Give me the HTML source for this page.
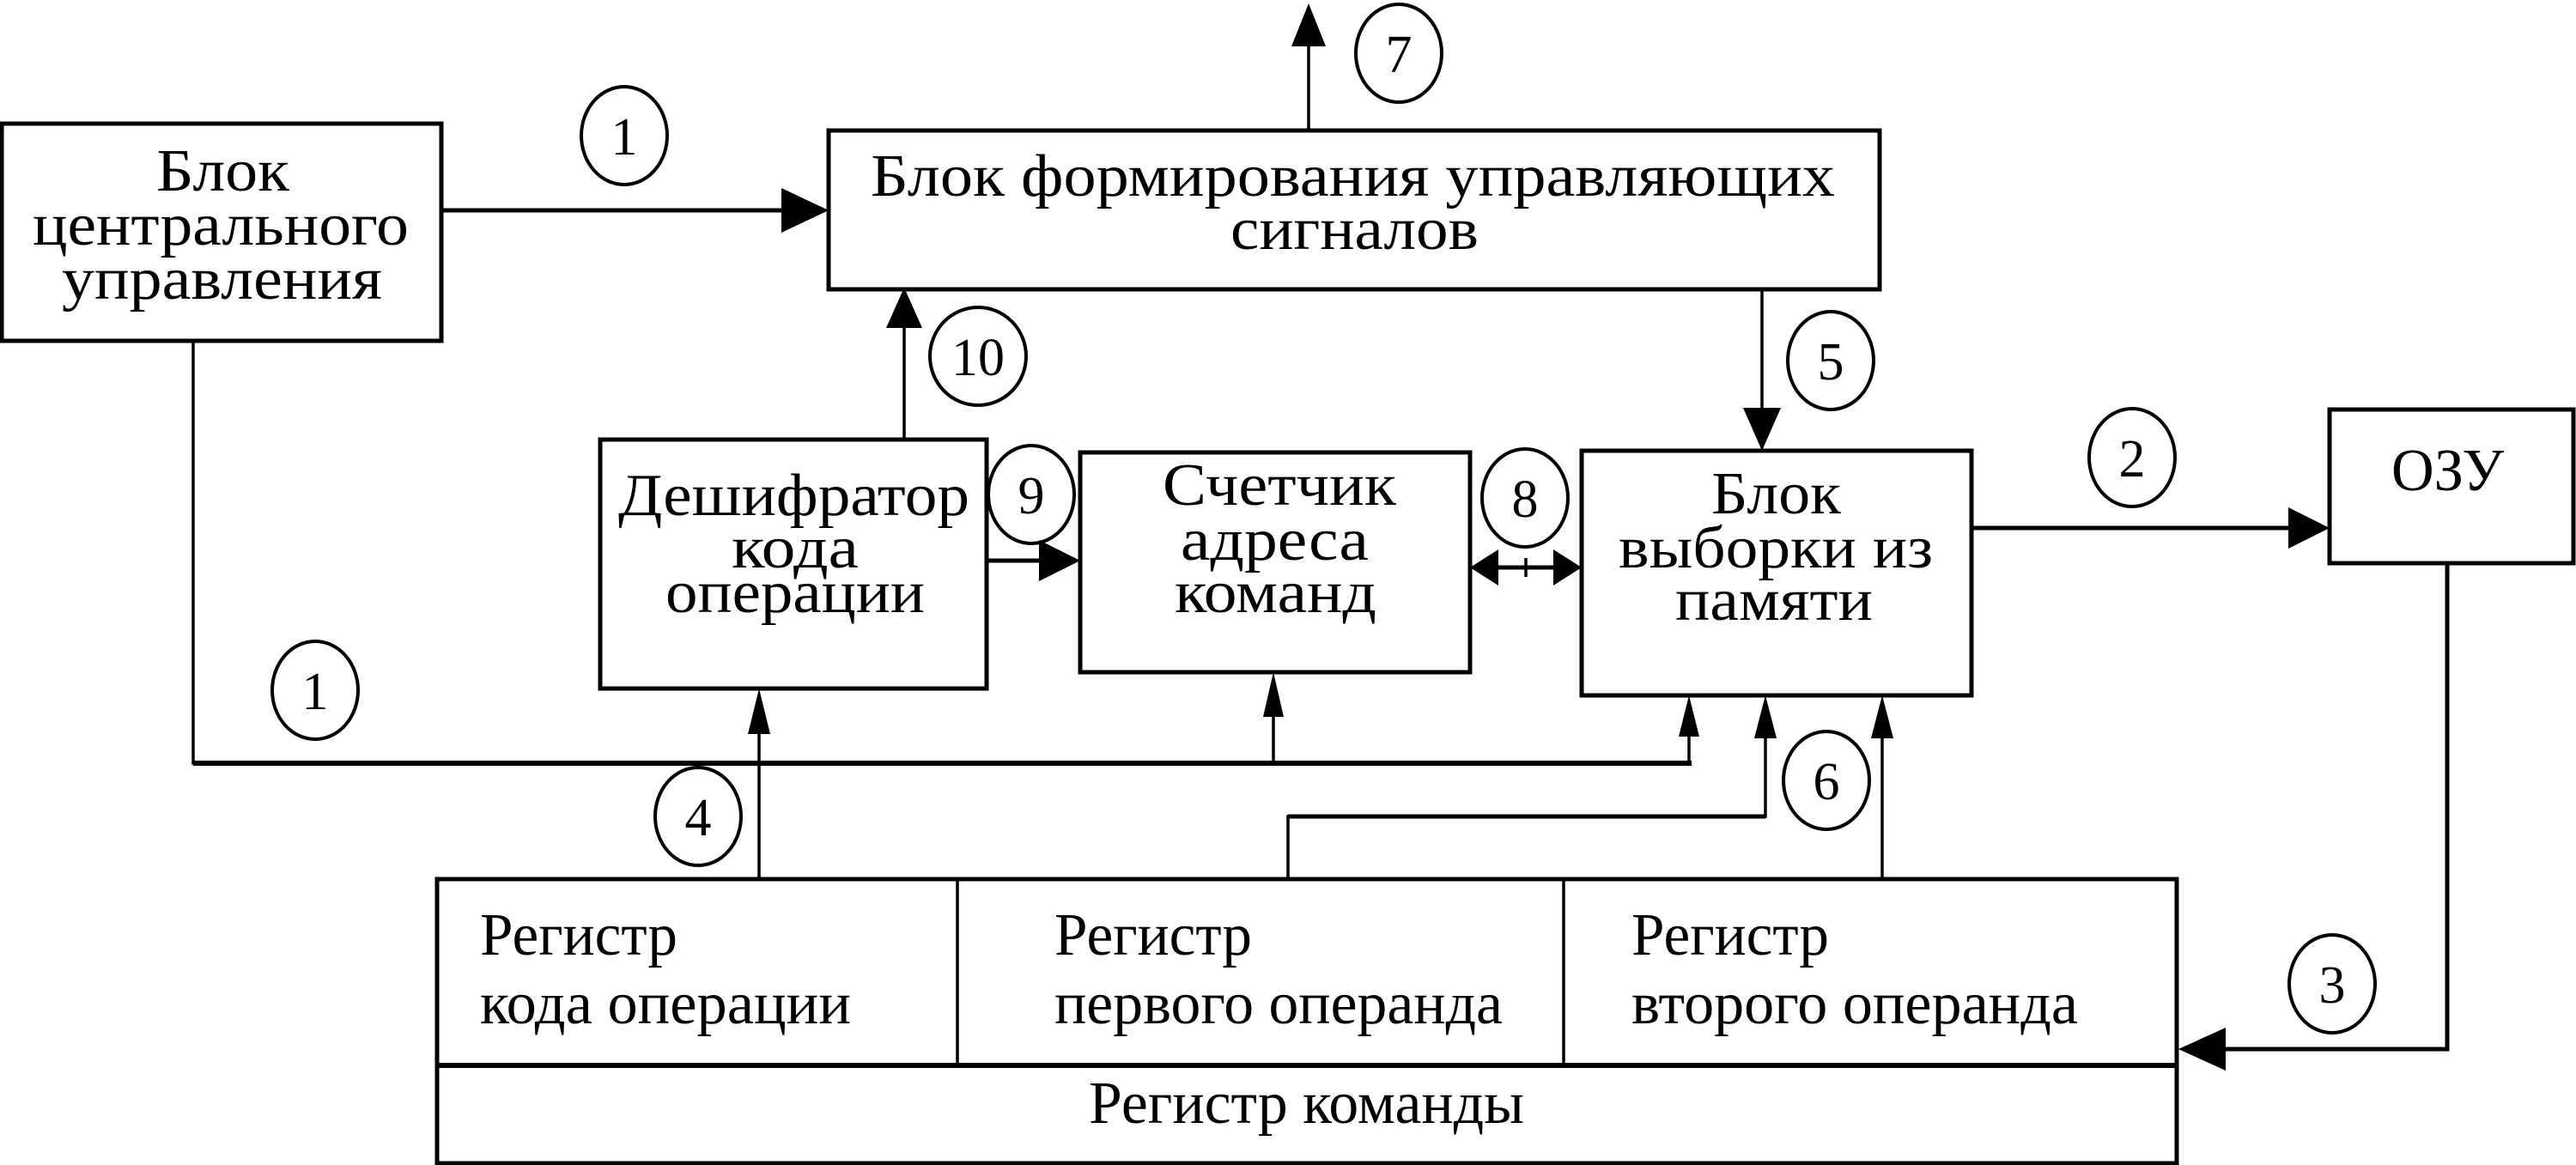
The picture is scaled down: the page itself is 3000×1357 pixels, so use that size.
<!DOCTYPE html>
<html><head><meta charset="utf-8"><style>
html,body{margin:0;padding:0;background:#fff;}
svg{display:block;}
text{font-family:"Liberation Serif",serif;font-size:70px;fill:#000;}
.n{font-size:62px;text-anchor:middle;}
</style></head><body>
<svg width="3000" height="1357" viewBox="0 0 3000 1357" xmlns="http://www.w3.org/2000/svg">
<g fill="none" stroke="#000" stroke-width="5">
<rect x="2" y="144" width="512" height="253"/>
<rect x="965" y="152" width="1224" height="185"/>
<rect x="699" y="512" width="450" height="290"/>
<rect x="1258" y="527" width="454" height="256"/>
<rect x="1842" y="525" width="454" height="285"/>
<rect x="2713" y="477" width="284" height="179"/>
<rect x="509" y="1024" width="2026" height="331"/>
</g>
<g fill="none" stroke="#000" stroke-width="3.5">
<line x1="509" y1="1241" x2="2535" y2="1241" stroke-width="6"/>
<line x1="1115" y1="1024" x2="1115" y2="1241"/>
<line x1="1821" y1="1024" x2="1821" y2="1241"/>
<!-- 7 -->
<line x1="1524" y1="152" x2="1524" y2="50"/>
<!-- 1 top -->
<line x1="514" y1="245" x2="912" y2="245" stroke-width="5"/>
<!-- 10 -->
<line x1="1053" y1="512" x2="1053" y2="380"/>
<!-- 9 -->
<line x1="1149" y1="653" x2="1212" y2="653" stroke-width="5"/>
<!-- 8 -->
<line x1="1740" y1="661" x2="1815" y2="661" stroke-width="5"/>
<line x1="1777" y1="650" x2="1777" y2="672"/>
<!-- 5 -->
<line x1="2052" y1="337" x2="2052" y2="477"/>
<!-- 2 -->
<line x1="2296" y1="615" x2="2668" y2="615" stroke-width="5"/>
<!-- OZU -> register -->
<polyline points="2850,656 2850,1222 2585,1222" stroke-width="5"/>
<!-- bus 1 -->
<polyline points="225,397 225,889 1970,889"/>
<line x1="225" y1="889" x2="1970" y2="889" stroke-width="6"/>
<line x1="1967" y1="889" x2="1967" y2="858"/>
<line x1="1483" y1="889" x2="1483" y2="835"/>
<!-- 4 -->
<line x1="884" y1="1024" x2="884" y2="853"/>
<!-- 6 -->
<polyline points="1500,1024 1500,951 2056,951 2056,858"/>
<line x1="1500" y1="951" x2="2056" y2="951" stroke-width="5"/>
<line x1="2192" y1="1024" x2="2192" y2="858"/>
</g>
<g fill="#000">
<polygon points="1524,4 1504,54 1544,54"/>
<polygon points="965,245 910,219 910,271"/>
<polygon points="1053,335 1032,382 1074,382"/>
<polygon points="1258,653 1210,629 1210,677"/>
<polygon points="1712,661 1745,640 1745,682"/>
<polygon points="1842,661 1809,640 1809,682"/>
<polygon points="2052,525 2030,475 2074,475"/>
<polygon points="2713,615 2665,591 2665,639"/>
<polygon points="2537,1222 2592,1197 2592,1247"/>
<polygon points="1967,810 1955,858 1979,858"/>
<polygon points="1483,783 1471,835 1495,835"/>
<polygon points="884,802 871,855 897,855"/>
<polygon points="2056,810 2043,860 2069,860"/>
<polygon points="2192,810 2179,860 2205,860"/>
</g>
<g fill="none" stroke="#000" stroke-width="4">
<ellipse cx="1629" cy="62" rx="50" ry="57"/>
<ellipse cx="727" cy="158" rx="50" ry="57"/>
<ellipse cx="1139" cy="415" rx="56" ry="57"/>
<ellipse cx="1201" cy="576" rx="50" ry="57"/>
<ellipse cx="1776" cy="580" rx="50" ry="57"/>
<ellipse cx="2132" cy="420" rx="50" ry="57"/>
<ellipse cx="2483" cy="533" rx="50" ry="57"/>
<ellipse cx="367" cy="804" rx="50" ry="57"/>
<ellipse cx="813" cy="951" rx="50" ry="57"/>
<ellipse cx="2127" cy="909" rx="50" ry="57"/>
<ellipse cx="2716" cy="1146" rx="50" ry="57"/>
</g>
<g>
<text class="n" x="1629" y="84">7</text>
<text class="n" x="727" y="180">1</text>
<text class="n" x="1139" y="437">10</text>
<text class="n" x="1201" y="598">9</text>
<text class="n" x="1776" y="602">8</text>
<text class="n" x="2132" y="442">5</text>
<text class="n" x="2483" y="555">2</text>
<text class="n" x="367" y="826">1</text>
<text class="n" x="813" y="973">4</text>
<text class="n" x="2127" y="931">6</text>
<text class="n" x="2716" y="1168">3</text>
</g>
<g>
<text x="182" y="222" textLength="155" lengthAdjust="spacingAndGlyphs">Блок</text>
<text x="38" y="285" textLength="438" lengthAdjust="spacingAndGlyphs">центрального</text>
<text x="72" y="348" textLength="373" lengthAdjust="spacingAndGlyphs">управления</text>
<text x="1014" y="228" textLength="1123" lengthAdjust="spacingAndGlyphs">Блок формирования управляющих</text>
<text x="1433" y="290" textLength="289" lengthAdjust="spacingAndGlyphs">сигналов</text>
<text x="720" y="600" textLength="409" lengthAdjust="spacingAndGlyphs">Дешифратор</text>
<text x="852" y="661" textLength="148" lengthAdjust="spacingAndGlyphs">кода</text>
<text x="775" y="713" textLength="302" lengthAdjust="spacingAndGlyphs">операции</text>
<text x="1354" y="588" textLength="272" lengthAdjust="spacingAndGlyphs">Счетчик</text>
<text x="1375" y="652" textLength="219" lengthAdjust="spacingAndGlyphs">адреса</text>
<text x="1368" y="713" textLength="235" lengthAdjust="spacingAndGlyphs">команд</text>
<text x="1993" y="598" textLength="151" lengthAdjust="spacingAndGlyphs">Блок</text>
<text x="1885" y="661" textLength="366" lengthAdjust="spacingAndGlyphs">выборки из</text>
<text x="1951" y="722" textLength="230" lengthAdjust="spacingAndGlyphs">памяти</text>
<text x="2785" y="571" textLength="131" lengthAdjust="spacingAndGlyphs">ОЗУ</text>
<text x="559" y="1112" textLength="230" lengthAdjust="spacingAndGlyphs">Регистр</text>
<text x="559" y="1192" textLength="432" lengthAdjust="spacingAndGlyphs">кода операции</text>
<text x="1228" y="1112" textLength="230" lengthAdjust="spacingAndGlyphs">Регистр</text>
<text x="1228" y="1192" textLength="522" lengthAdjust="spacingAndGlyphs">первого операнда</text>
<text x="1900" y="1112" textLength="230" lengthAdjust="spacingAndGlyphs">Регистр</text>
<text x="1900" y="1192" textLength="520" lengthAdjust="spacingAndGlyphs">второго операнда</text>
<text x="1268" y="1308" textLength="507" lengthAdjust="spacingAndGlyphs">Регистр команды</text>
</g>
</svg>
</body></html>
